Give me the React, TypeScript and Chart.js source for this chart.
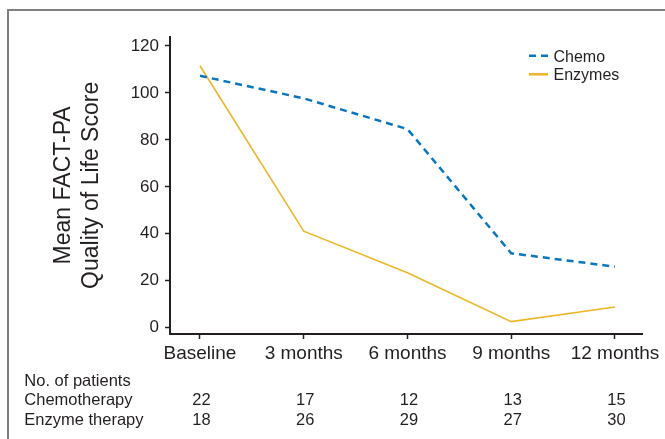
import React, { useEffect, useRef } from 'react';
import { Chart, registerables } from 'chart.js';

Chart.register(...registerables);

// ---- data ----
const categories = ['Baseline', '3 months', '6 months', '9 months', '12 months'];
const seriesLabels = ['Chemo', 'Enzymes'];
const chemoScores = [107.3, 97.7, 84.6, 31.7, 26.0];
const enzymeScores = [111.6, 41.1, 23.4, 2.6, 8.8];
const yTicks = [0, 20, 40, 60, 80, 100, 120];
const yTitle = ['Mean FACT-PA', 'Quality of Life Score'];
const tableTitle = 'No. of patients';
const rowLabels = ['Chemotherapy', 'Enzyme therapy'];
const chemoPatients = [22, 17, 12, 13, 15];
const enzymePatients = [18, 26, 29, 27, 30];

// ---- styles ----
const FONT = '"Liberation Sans", Arial, Helvetica, sans-serif';
const INK = '#231f20';
const BLUE = '#0a76bf';
const YELLOW = '#efb528';

const legendPlugin = {
  id: 'customLegend',
  afterDraw(chart: any) {
    const ctx = chart.ctx;
    const area = chart.chartArea;
    const x0 = area.right - 113.7;
    const lineLen = 19;
    chart.data.datasets.forEach((ds: any, i: number) => {
      const yLine = area.top + 19 + i * 18.6;
      ctx.save();
      ctx.strokeStyle = ds.borderColor;
      ctx.lineWidth = 2.5;
      ctx.setLineDash(ds.borderDash || []);
      ctx.beginPath();
      ctx.moveTo(x0, yLine);
      ctx.lineTo(x0 + lineLen, yLine);
      ctx.stroke();
      ctx.setLineDash([]);
      ctx.fillStyle = INK;
      ctx.font = `16px ${FONT}`;
      ctx.textAlign = 'left';
      ctx.textBaseline = 'alphabetic';
      ctx.fillText(ds.label, x0 + lineLen + 5.5, yLine + 6);
      ctx.restore();
    });
  },
};

const tablePlugin = {
  id: 'patientTable',
  afterDraw(chart: any) {
    const ctx = chart.ctx;
    const xs = chart.scales.x;
    const base = chart.chartArea.bottom;
    ctx.save();
    ctx.fillStyle = INK;
    ctx.font = `16.5px ${FONT}`;
    ctx.textBaseline = 'alphabetic';
    ctx.textAlign = 'left';
    const rowsY = [base + 51.7, base + 71.3, base + 91.3];
    ctx.fillText(tableTitle, 24.3, rowsY[0]);
    ctx.fillText(rowLabels[0], 24.3, rowsY[1]);
    ctx.fillText(rowLabels[1], 24.3, rowsY[2]);
    ctx.textAlign = 'center';
    categories.forEach((_, i) => {
      const px = xs.getPixelForValue(i) + 1.5;
      ctx.fillText(String(chemoPatients[i]), px, rowsY[1]);
      ctx.fillText(String(enzymePatients[i]), px, rowsY[2]);
    });
    ctx.restore();
  },
};

export default function App() {
  const canvasRef = useRef<HTMLCanvasElement | null>(null);

  useEffect(() => {
    if (!canvasRef.current) return;
    const chart = new Chart(canvasRef.current, {
      type: 'line',
      data: {
        datasets: [
          {
            label: seriesLabels[0],
            data: categories.map((_, i) => ({ x: i, y: chemoScores[i] })),
            borderColor: BLUE,
            borderWidth: 2.5,
            borderDash: [7, 5],
            pointRadius: 0,
            tension: 0,
            fill: false,
          },
          {
            label: seriesLabels[1],
            data: categories.map((_, i) => ({ x: i, y: enzymeScores[i] })),
            borderColor: YELLOW,
            borderWidth: 1.6,
            pointRadius: 0,
            tension: 0,
            fill: false,
          },
        ],
      },
      options: {
        responsive: false,
        animation: false,
        devicePixelRatio: 1,
        layout: { padding: { top: 36.7, right: 22.3, left: 0, bottom: 0 } },
        plugins: {
          legend: { display: false },
          tooltip: { enabled: false },
          title: { display: false },
        },
        scales: {
          x: {
            type: 'linear',
            min: -0.289,
            max: 4.267,
            afterBuildTicks: (s: any) => {
              s.ticks = categories.map((_, i) => ({ value: i }));
            },
            afterFit: (s: any) => {
              s.height = 105;
            },
            grid: {
              drawOnChartArea: false,
              drawTicks: true,
              tickLength: 5,
              tickColor: INK,
              tickWidth: 1.5,
            },
            border: { display: true, color: INK, width: 2 },
            ticks: {
              callback: (v: any) => categories[Math.round(Number(v))],
              font: { family: FONT, size: 19 },
              color: INK,
              padding: 3,
              maxRotation: 0,
              autoSkip: false,
            },
          },
          y: {
            type: 'linear',
            min: -2.68,
            max: 123.96,
            afterBuildTicks: (s: any) => {
              s.ticks = yTicks.map((v) => ({ value: v }));
            },
            afterFit: (s: any) => {
              s.width = 170;
            },
            grid: {
              drawOnChartArea: false,
              drawTicks: true,
              tickLength: 5,
              tickColor: INK,
              tickWidth: 1.5,
            },
            border: { display: true, color: INK, width: 2 },
            ticks: {
              font: { family: FONT, size: 17 },
              color: INK,
              padding: 6,
              autoSkip: false,
            },
            title: {
              display: true,
              text: yTitle,
              font: { family: FONT, size: 23, lineHeight: 1.23 },
              color: INK,
              padding: { top: 49.5, bottom: 0 },
            },
          },
        },
      } as any,
      plugins: [legendPlugin, tablePlugin],
    });
    return () => chart.destroy();
  }, []);

  return (
    <div
      style={{
        position: 'fixed',
        left: 0,
        top: 0,
        width: 665,
        height: 439,
        background: '#ffffff',
        overflow: 'hidden',
      }}
    >
      <div
        style={{
          position: 'absolute',
          left: 7,
          top: 8.5,
          right: -10,
          bottom: -10,
          borderLeft: '2px solid #7f7f7f',
          borderTop: '2px solid #7f7f7f',
        }}
      />
      <canvas
        ref={canvasRef}
        width={665}
        height={439}
        style={{ position: 'absolute', left: 0, top: 0, width: 665, height: 439 }}
      />
    </div>
  );
}
